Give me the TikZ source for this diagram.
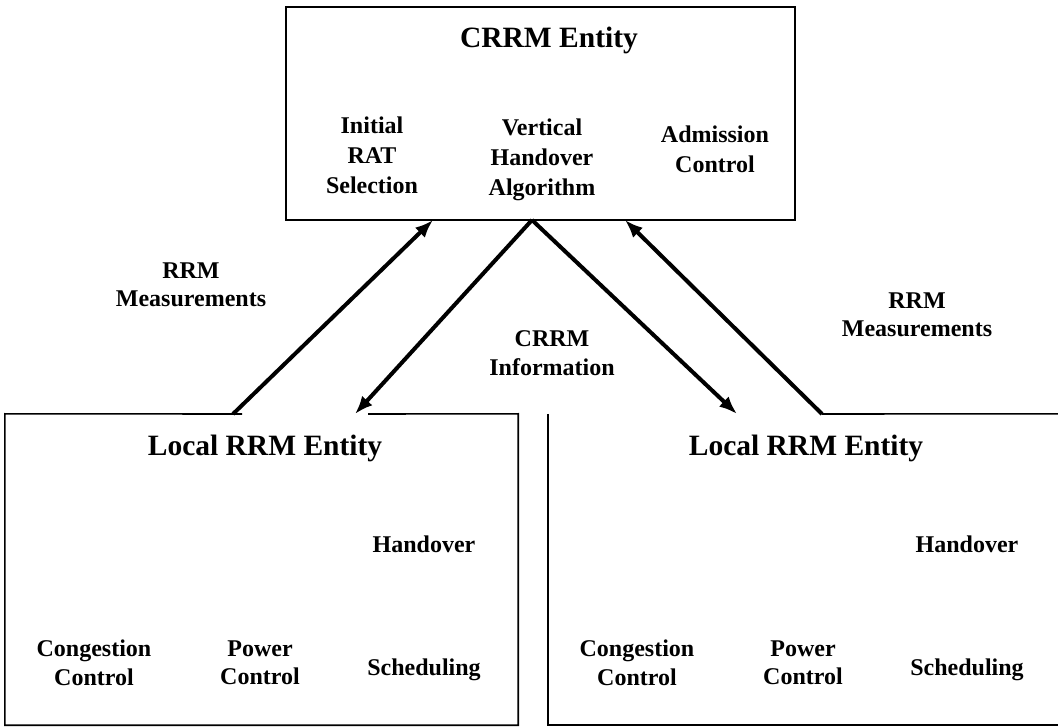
\documentclass[tikz,border=0pt]{standalone}
\usepackage{fontspec}
\setmainfont{Liberation Serif}
\usetikzlibrary{arrows.meta}
\begin{document}
\begin{tikzpicture}[x=1pt,y=-1pt,
  title/.style={font=\fontsize{29.5}{35}\selectfont\bfseries, inner sep=0pt},
  lab/.style={font=\fontsize{24}{28.5}\selectfont\bfseries, align=center, inner sep=0pt},
  labt/.style={font=\fontsize{24}{30}\selectfont\bfseries, align=center, inner sep=0pt},
  frame/.style={line width=1.6pt},
  boxarea/.style={draw=none, inner sep=0pt},
  conn/.style={line width=4pt, -{Latex[length=18pt,width=14pt]}}
]
\useasboundingbox (0,0) rectangle (1058,727);

% top box
\node[draw, frame, boxarea, draw=black, minimum width=509pt, minimum height=213pt] (crrm) at (540.5,113.5) {};
\node[title, anchor=base] (crrmt) at (549,48) {CRRM Entity};
\node[labt] (init) at (372,155) {Initial\\RAT\\Selection};
\node[labt] (vho) at (542,159.5) {Vertical\\Handover\\Algorithm};
\node[labt] (adm) at (715,149) {Admission\\Control};

% left local box
\node[boxarea, minimum width=513pt, minimum height=311pt] (lbox) at (261.5,569.5) {};
\coordinate (lgapa) at (242,414);
\coordinate (lgapb) at (368,414);
\draw[frame] (lgapa) -- (lbox.north west) -- (lbox.south west) -- (lbox.south east) -- (lbox.north east) -- (lgapb);
\node[title, anchor=base] (lt) at (265,455) {Local RRM Entity};
\node[lab, anchor=base] (lho) at (424,552) {Handover};
\node[lab] (lcc) at (94,663) {Congestion\\Control};
\node[lab] (lpc) at (260,663) {Power\\Control};
\node[lab, anchor=base] (lsc) at (424,675) {Scheduling};

% right local box
\node[boxarea, minimum width=522pt, minimum height=311pt] (rbox) at (809,569.5) {};
\coordinate (ra) at (822,414);
\draw[frame] (ra) -- (rbox.north east);
\draw[frame] (rbox.north west) -- (rbox.south west) -- (rbox.south east);
\node[title, anchor=base] (rt) at (806,455) {Local RRM Entity};
\node[lab, anchor=base] (rho) at (967,552) {Handover};
\node[lab] (rcc) at (637,663) {Congestion\\Control};
\node[lab] (rpc) at (803,663) {Power\\Control};
\node[lab, anchor=base] (rsc) at (967,675) {Scheduling};

% connector labels
\node[lab] (rml) at (191,285) {RRM\\Measurements};
\node[lab] (rmr) at (917,315) {RRM\\Measurements};
\node[lab] (cri) at (552,353) {CRRM\\Information};

% connector end points
\coordinate (ta) at (433,220);
\coordinate (tb) at (532,220);
\coordinate (tc) at (625,220);
\coordinate (la) at (233,414);
\coordinate (lb) at (355,414);
\coordinate (rb) at (737,414);

\draw[conn] (la) -- (ta);
\draw[conn] (tb) -- (lb);
\draw[conn] (tb) -- (rb);
\draw[conn] (ra) -- (tc);
\end{tikzpicture}
\end{document}
